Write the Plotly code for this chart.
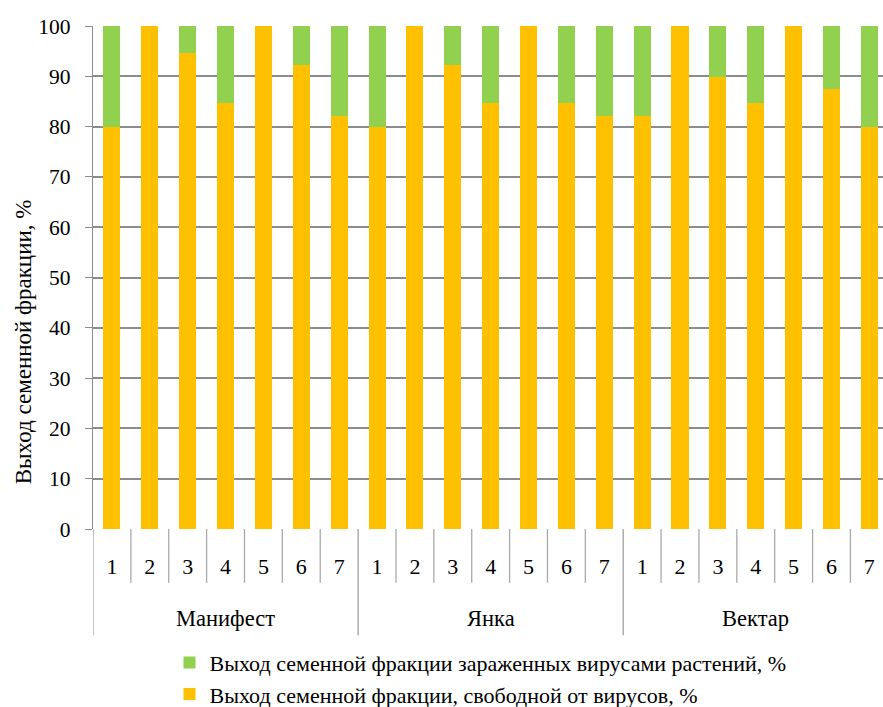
import plotly.graph_objects as go

# Varieties and seed-plot variants
groups = ["Манифест", "Янка", "Вектар"]
variants = ["1", "2", "3", "4", "5", "6", "7"]

# Share of the seed fraction free of viruses, % (per variety, variants 1..7)
free_manifest = [80.0, 100.0, 94.6, 84.6, 100.0, 92.2, 82.2]
free_yanka = [80.0, 100.0, 92.2, 84.6, 100.0, 84.6, 82.2]
free_vektar = [82.2, 100.0, 89.8, 84.6, 100.0, 87.4, 80.0]

free = free_manifest + free_yanka + free_vektar
infected = [round(100.0 - v, 1) for v in free]

n_var = len(variants)
n_all = n_var * len(groups)
xs = list(range(n_all))
tick_text = variants * len(groups)

FONT = "Times New Roman"
GRID = "#8c8c8c"
SEP = "#a9a9a9"

fig = go.Figure()
fig.add_trace(go.Bar(
    x=xs, y=free, name="Выход семенной фракции, свободной от вирусов, %",
    marker=dict(color="#FFC000", line=dict(width=0)), width=0.45,
))
fig.add_trace(go.Bar(
    x=xs, y=infected, name="Выход семенной фракции зараженных вирусами растений, %",
    marker=dict(color="#92D050", line=dict(width=0)), width=0.45,
))

# separators between variants (short) and between varieties (long)
y_short = -0.107
y_long = -0.211
shapes = []
for k in range(n_all + 1):
    xb = k - 0.5
    is_group = (k % n_var == 0)
    shapes.append(dict(
        type="line", xref="x", yref="paper", x0=xb, x1=xb,
        y0=0, y1=y_long if is_group else y_short,
        line=dict(color=SEP if not is_group else "#a0a0a0", width=1.3),
    ))

annotations = []
for gi, g in enumerate(groups):
    annotations.append(dict(
        x=gi * n_var + (n_var - 1) / 2, y=-0.177, xref="x", yref="paper",
        text=g, showarrow=False, font=dict(family=FONT, size=22.5, color="#000000"),
        yanchor="middle",
    ))
annotations.append(dict(
    x=-0.0875, y=0.373, xref="paper", yref="paper", textangle=-90,
    text="Выход семенной фракции, %", showarrow=False,
    font=dict(family=FONT, size=23, color="#000000"),
    xanchor="center", yanchor="middle",
))

fig.update_layout(
    template="none",
    width=883, height=707,
    margin=dict(l=93, r=0, t=26, b=178, autoexpand=False),
    barmode="stack",
    plot_bgcolor="white", paper_bgcolor="white",
    font=dict(family=FONT, size=21, color="#000000"),
    shapes=shapes,
    annotations=annotations,
    showlegend=True,
    legend=dict(
        orientation="v", traceorder="reversed",
        x=0.4905, xanchor="center", y=-0.224, yanchor="top",
        font=dict(family=FONT, size=22, color="#000000"),
        itemsizing="constant", tracegroupgap=0,
    ),
    xaxis=dict(
        range=[-0.5, 20.36], tickmode="array", tickvals=xs, ticktext=tick_text,
        showgrid=False, zeroline=False, showline=False, ticks="",
        ticklabelstandoff=22,
        tickfont=dict(family=FONT, size=22, color="#000000"),
    ),
    yaxis=dict(
        range=[0, 100], dtick=10, showgrid=True, gridcolor=GRID, gridwidth=1.5,
        showline=True, linecolor=GRID, linewidth=1.3, ticks="outside",
        ticklen=7, tickcolor=GRID, zeroline=False, ticklabelstandoff=10,
        tickfont=dict(family=FONT, size=21.5, color="#000000"),
    ),
)

fig.write_html("out.html")
